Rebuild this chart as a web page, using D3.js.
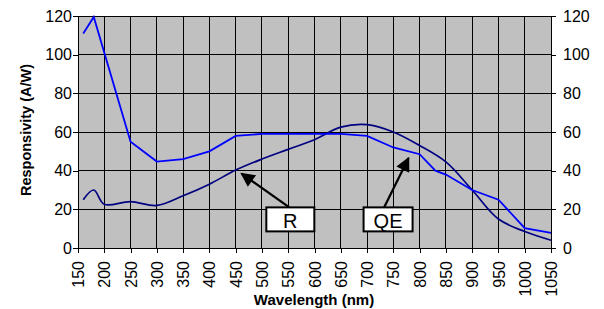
<!DOCTYPE html>
<html>
<head>
<meta charset="utf-8">
<script src="https://cdn.jsdelivr.net/npm/d3@7"></script>
<style>
  body { margin: 0; background: #fff; }
  text { font-family: "Liberation Sans", Arial, sans-serif; }
</style>
</head>
<body>
<div class="chart"></div>
<script>
// Wavelength ticks and series
var xTicks = [150, 200, 250, 300, 350, 400, 450, 500, 550, 600, 650, 700, 750, 800, 850, 900, 950, 1000, 1050];
var yTicks = [0, 20, 40, 60, 80, 100, 120];

// QE curve (bright blue, straight segments)
var qeWave = [160, 180, 250, 300, 350, 400, 450, 500, 550, 600, 650, 700, 750, 800, 830, 850, 900, 950, 1000, 1050];
var qeValue = [111, 119.5, 55, 44.7, 46, 50, 58, 59, 59, 59, 59, 58, 52, 48.5, 40, 38, 30, 25, 10.3, 7.8];

// Responsivity curve (navy, smoothed)
var rWave = [160, 180, 200, 250, 300, 350, 400, 450, 500, 550, 600, 650, 700, 750, 800, 850, 900, 950, 1000, 1050];
var rValue = [25, 30, 22.6, 24, 22, 27, 33, 40.3, 46, 51, 56, 62.5, 63.8, 60, 53, 44.5, 30, 15, 8.5, 4];

// Callouts: label, arrow tip (data units), box centre (data units)
var labels = ["R", "QE"];
var tipWave = [461, 779];
var tipValue = [38.5, 46.5];
var boxWave = [554, 740];
var boxValue = [14.8, 14.8];

var svgWidth = 604;
var svgHeight = 309;
var margin = { top: 16, right: 53, bottom: 61, left: 78 };
var width = svgWidth - margin.left - margin.right;
var height = svgHeight - margin.top - margin.bottom;

var svg = d3.select(".chart")
            .append("svg")
            .attr("width", svgWidth)
            .attr("height", svgHeight);

var chartGroup = svg.append("g")
                    .attr("transform", `translate(${margin.left}, ${margin.top})`);

var x = d3.scaleLinear().domain([150, 1050]).range([0, width]);
var y = d3.scaleLinear().domain([0, 120]).range([height, 0]);

// plot background
chartGroup.append("rect")
          .attr("width", width)
          .attr("height", height)
          .attr("fill", "#c0c0c0");

// grid
chartGroup.append("g")
          .selectAll("line")
          .data(xTicks)
          .enter()
          .append("line")
          .attr("x1", d => x(d)).attr("x2", d => x(d))
          .attr("y1", 0).attr("y2", height)
          .attr("stroke", "#000")
          .attr("shape-rendering", "crispEdges");
chartGroup.append("g")
          .selectAll("line")
          .data(yTicks)
          .enter()
          .append("line")
          .attr("x1", 0).attr("x2", width)
          .attr("y1", d => y(d)).attr("y2", d => y(d))
          .attr("stroke", "#000")
          .attr("shape-rendering", "crispEdges");

// axes
var fmt = d3.format("d");
var leftAxis = d3.axisLeft(y).tickValues(yTicks).tickFormat(fmt).tickSize(5).tickPadding(1);
var rightAxis = d3.axisRight(y).tickValues(yTicks).tickFormat(fmt).tickSize(5).tickPadding(7);
var bottomAxis = d3.axisBottom(x).tickValues(xTicks).tickFormat(fmt).tickSize(5).tickPadding(3);

function styleAxis(g) {
  g.select(".domain").attr("stroke", "#000").attr("shape-rendering", "crispEdges");
  g.selectAll(".tick line").attr("stroke", "#000").attr("shape-rendering", "crispEdges");
  g.selectAll(".tick text").attr("fill", "#000").style("font-size", "16px");
}

chartGroup.append("g").call(leftAxis).call(styleAxis);
chartGroup.append("g")
          .attr("transform", `translate(${width}, 0)`)
          .call(rightAxis).call(styleAxis);
var xg = chartGroup.append("g")
          .attr("transform", `translate(0, ${height})`)
          .call(bottomAxis).call(styleAxis);
xg.selectAll(".tick text")
  .attr("transform", "rotate(-90)")
  .attr("x", -13)
  .attr("y", 0)
  .attr("dy", "0.35em")
  .attr("text-anchor", "end");

// top border
chartGroup.append("line")
          .attr("x1", 0).attr("x2", width)
          .attr("y1", 0).attr("y2", 0)
          .attr("stroke", "#000")
          .attr("shape-rendering", "crispEdges");

// series
var qeData = qeWave.map((w, i) => [w, qeValue[i]]);
var rData = rWave.map((w, i) => [w, rValue[i]]);

chartGroup.append("path")
          .datum(rData)
          .attr("fill", "none")
          .attr("stroke", "#000080")
          .attr("stroke-width", 1.7)
          .attr("d", d3.line().x(d => x(d[0])).y(d => y(d[1])).curve(d3.curveCatmullRom.alpha(0.5)));

chartGroup.append("path")
          .datum(qeData)
          .attr("fill", "none")
          .attr("stroke", "#0000ff")
          .attr("stroke-width", 1.8)
          .attr("d", d3.line().x(d => x(d[0])).y(d => y(d[1])));

// callouts
svg.append("defs").append("marker")
   .attr("id", "head")
   .attr("viewBox", "0 0 10 10")
   .attr("refX", 9).attr("refY", 5)
   .attr("markerWidth", 7.5).attr("markerHeight", 6.5)
   .attr("markerUnits", "strokeWidth")
   .attr("orient", "auto")
   .append("path")
   .attr("d", "M0,0 L10,5 L0,10 z")
   .attr("fill", "#000");

var boxW = [48, 49];
var boxH = 24;
labels.forEach(function(lab, i) {
  var bx = x(boxWave[i]);
  var by = y(boxValue[i]);
  chartGroup.append("line")
            .attr("x1", bx - (i === 0 ? 1 : 4)).attr("y1", by - boxH / 2)
            .attr("x2", x(tipWave[i])).attr("y2", y(tipValue[i]))
            .attr("stroke", "#000")
            .attr("stroke-width", 2.2)
            .attr("marker-end", "url(#head)");
  chartGroup.append("rect")
            .attr("x", bx - boxW[i] / 2).attr("y", by - boxH / 2)
            .attr("width", boxW[i]).attr("height", boxH)
            .attr("fill", "#fff")
            .attr("stroke", "#000")
            .attr("stroke-width", 2);
  chartGroup.append("text")
            .attr("x", bx).attr("y", by + 1)
            .attr("dy", "0.36em")
            .attr("text-anchor", "middle")
            .style("font-size", "20px")
            .text(lab);
});

// axis titles
svg.append("text")
   .attr("transform", `translate(31, 130) rotate(-90)`)
   .attr("text-anchor", "middle")
   .style("font-size", "14.5px")
   .style("font-weight", "bold")
   .text("Responsivity (A/W)");

svg.append("text")
   .attr("x", 314)
   .attr("y", 305)
   .attr("text-anchor", "middle")
   .style("font-size", "15px")
   .style("font-weight", "bold")
   .text("Wavelength (nm)");
</script>
</body>
</html>
